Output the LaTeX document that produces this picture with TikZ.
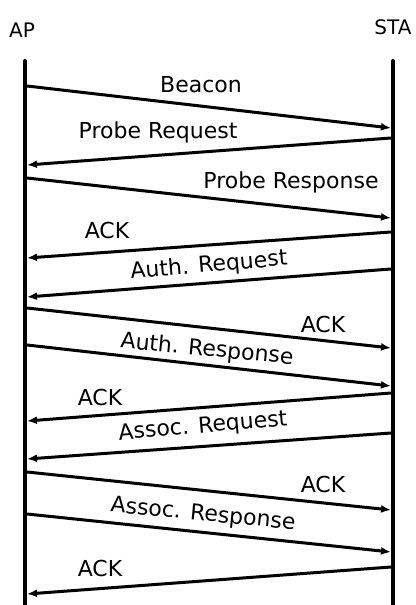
\documentclass[tikz,border=0pt]{standalone}
\usepackage{fontspec}
\setmainfont{DejaVu Sans}
\usetikzlibrary{arrows.meta}

\begin{document}
\begin{tikzpicture}[x=1pt,y=-1pt,
    lifeline/.style={line width=4pt,line cap=round},
    msg/.style={line width=3pt,-{Latex[length=10pt,width=8pt]}},
    lbl/.style={font=\fontsize{22}{24}\selectfont,inner sep=0pt},
    head/.style={font=\fontsize{20}{22}\selectfont,inner sep=0pt}]
  \useasboundingbox (0,0) rectangle (415,605);

  % entity headers
  \node[head] (ap)  at (22,30) {AP};
  \node[head] (sta) at (393,27) {STA};

  % lifelines
  \coordinate (apTop) at (25,61);
  \coordinate (apBot) at (25,607);
  \coordinate (staTop) at (393,61);
  \coordinate (staBot) at (393,607);
  \draw[lifeline] (apTop) -- (apBot);
  \draw[lifeline] (staTop) -- (staBot);

  % message end points on the AP side (a*) and the STA side (s*)
  \foreach \n/\ya/\ys in {1/86/128, 2/165/138, 3/178/218, 4/258/232,
                          5/297/269, 6/308/348, 7/345/386, 8/421/393,
                          9/459/433, 10/472/510, 11/514/552, 12/594/567}{
    \coordinate (a\n) at (27,\ya);
    \coordinate (s\n) at (391,\ys);
  }

  % AP -> STA
  \draw[msg] (a1)  -- (s1);
  \draw[msg] (a3)  -- (s3);
  \draw[msg] (a6)  -- (s6);
  \draw[msg] (a7)  -- (s7);
  \draw[msg] (a10) -- (s10);
  \draw[msg] (a11) -- (s11);
  % STA -> AP
  \draw[msg] (s2)  -- (a2);
  \draw[msg] (s4)  -- (a4);
  \draw[msg] (s5)  -- (a5);
  \draw[msg] (s8)  -- (a8);
  \draw[msg] (s9)  -- (a9);
  \draw[msg] (s12) -- (a12);

  % message labels
  \node[lbl] (l1)  at (201,85)  {Beacon};
  \node[lbl] (l2)  at (158,132) {Probe Request};
  \node[lbl] (l3)  at (291,182) {Probe Response};
  \node[lbl] (l4)  at (107,230) {ACK};
  \node[lbl,rotate=5] (l5) at (209,266) {Auth. Request};
  \node[lbl] (l6)  at (323,324) {ACK};
  \node[lbl,rotate=-5.5] (l7) at (207,350) {Auth. Response};
  \node[lbl] (l8)  at (100,397) {ACK};
  \node[lbl,rotate=5] (l9) at (203,427) {Assoc. Request};
  \node[lbl] (l10) at (323,484) {ACK};
  \node[lbl,rotate=-5.5] (l11) at (203,515) {Assoc. Response};
  \node[lbl] (l12) at (100,568) {ACK};
\end{tikzpicture}
\end{document}
